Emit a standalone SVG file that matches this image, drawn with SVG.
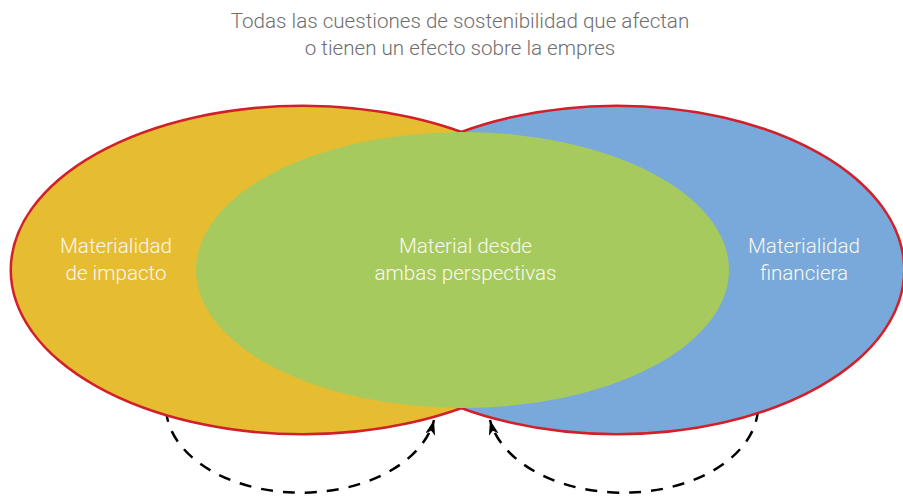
<svg xmlns="http://www.w3.org/2000/svg" width="903" height="499" viewBox="0 0 903 499">
  <style>
    .title { font-family: Roboto, "Liberation Sans", sans-serif; font-weight: 300; font-size: 20.6px; fill: #6E6E6E; text-anchor: middle; }
    .label { font-family: Roboto, "Liberation Sans", sans-serif; font-weight: 300; font-size: 20.6px; fill: #FAF8EE; text-anchor: middle; }
    .outline { fill: none; stroke: #D2202A; stroke-width: 5; }
    .dash { fill: none; stroke: #000; stroke-width: 2.5; stroke-dasharray: 12 10; }
  </style>
  <defs>
    <marker id="arrow" markerUnits="userSpaceOnUse" markerWidth="18" markerHeight="12" refX="15" refY="5" orient="auto">
      <path d="M0,0 L15,5 L0,10 L4,5 z" fill="#000"/>
    </marker>
  </defs>
  <rect width="903" height="499" fill="#FFFFFF"/>

  <g id="connectors">
    <path class="dash" d="M166,410 A 135 87 0 0 0 434,420" marker-end="url(#arrow)"/>
    <path class="dash" d="M758,410 A 135 87 0 0 1 490,420" marker-end="url(#arrow)"/>
  </g>

  <g id="outlines">
    <ellipse class="outline" cx="303" cy="270" rx="291" ry="163"/>
    <ellipse class="outline" cx="617" cy="270" rx="286" ry="163"/>
  </g>

  <g id="impacto">
    <ellipse cx="303" cy="270" rx="291" ry="163" fill="#E6BD31"/>
  </g>
  <g id="financiera">
    <ellipse cx="617" cy="270" rx="286" ry="163" fill="#78A9DA"/>
  </g>
  <g id="ambas">
    <ellipse cx="462.5" cy="270" rx="266.5" ry="138" fill="#A7CA5E"/>
  </g>

  <g id="labels">
    <text class="title" x="460" y="28">Todas las cuestiones de sostenibilidad que afectan</text>
    <text class="title" x="460" y="55">o tienen un efecto sobre la empres</text>
    <text class="label" x="116" y="253">Materialidad</text>
    <text class="label" x="116" y="280">de impacto</text>
    <text class="label" x="465.5" y="253">Material desde</text>
    <text class="label" x="465.5" y="280">ambas perspectivas</text>
    <text class="label" x="804" y="253">Materialidad</text>
    <text class="label" x="804" y="280">financiera</text>
  </g>
</svg>
